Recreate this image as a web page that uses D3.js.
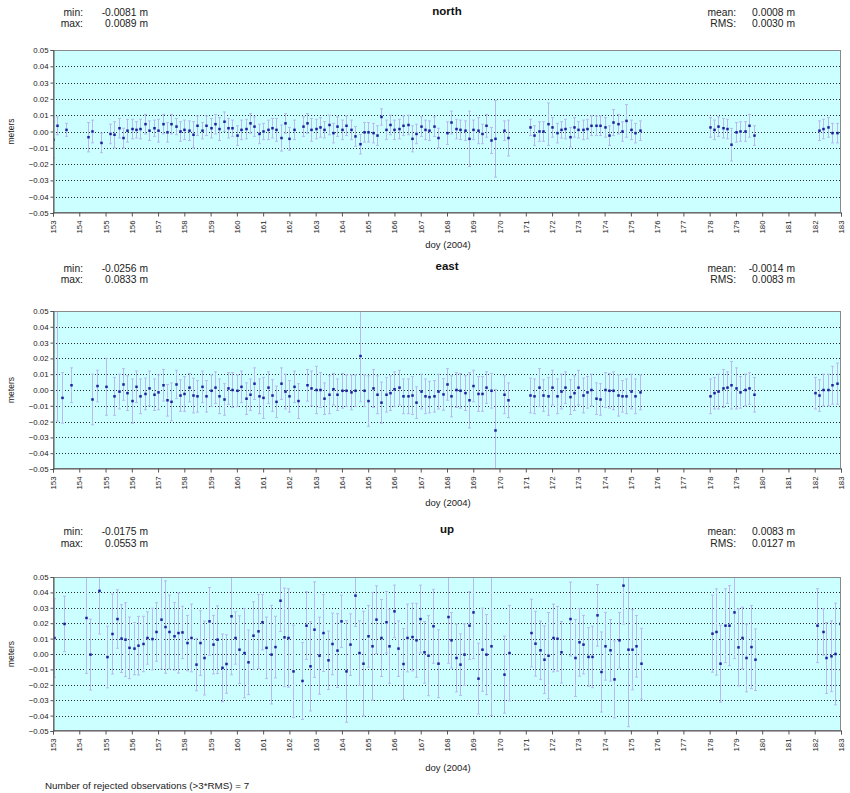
<!DOCTYPE html>
<html>
<head>
<meta charset="utf-8">
<script src="https://cdn.jsdelivr.net/npm/d3@7"></script>
<style>
  html, body { margin: 0; padding: 0; background: #ffffff; }
  svg { display: block; }
</style>
</head>
<body>
<svg id="chart" width="850" height="793"></svg>
<script>
// ---------------------------------------------------------------
// Daily GPS position residuals, doy 153-183 (2004)
// ---------------------------------------------------------------

const dayTicks = [153,154,155,156,157,158,159,160,161,162,163,164,165,166,167,168,
                  169,170,171,172,173,174,175,176,177,178,179,180,181,182,183];
const meterTicks = [-0.05,-0.04,-0.03,-0.02,-0.01,0.00,0.01,0.02,0.03,0.04,0.05];

const componentNames = ["north", "east", "up"];
const minValues  = ["-0.0081", "-0.0256", "-0.0175"];
const maxValues  = ["0.0089", "0.0833", "0.0553"];
const meanValues = ["0.0008", "-0.0014", "0.0083"];
const rmsValues  = ["0.0030", "0.0083", "0.0127"];
const rejectedCount = 7;

// ---- north ----
const northDoy = [
  153.00,153.17,153.50,154.33,154.50,154.83,
  155.17,155.33,155.50,155.67,155.83,
  156.00,156.17,156.33,156.50,156.67,156.83,
  157.00,157.17,157.33,157.50,157.67,157.83,
  158.00,158.17,158.33,158.50,158.67,158.83,
  159.00,159.17,159.33,159.50,159.67,159.83,
  160.00,160.17,160.33,160.50,160.67,160.83,
  161.00,161.17,161.33,161.50,161.67,161.83,
  162.00,162.17,162.50,162.67,162.83,
  163.00,163.17,163.33,163.50,163.67,163.83,
  164.00,164.17,164.33,164.50,164.67,164.83,
  165.00,165.17,165.33,165.50,165.67,165.83,
  166.00,166.17,166.33,166.50,166.67,166.83,
  167.00,167.17,167.33,167.50,167.67,
  168.00,168.17,168.33,168.50,168.67,168.83,
  169.00,169.17,169.33,169.50,169.67,169.83,
  170.17,170.33,
  171.17,171.33,171.50,171.67,171.83,
  172.00,172.17,172.33,172.50,172.67,172.83,
  173.00,173.17,173.33,173.50,173.67,173.83,
  174.00,174.17,174.33,174.50,174.67,174.83,
  175.00,175.17,175.33,
  178.00,178.17,178.33,178.50,178.67,178.83,
  179.00,179.17,179.33,179.50,179.67,
  182.17,182.33,182.50,182.67,182.83
];
const northValue = [
  -0.0050,0.0035,0.0010,-0.0035,0.0000,-0.0070,
  -0.0015,-0.0020,0.0020,-0.0040,0.0005,
  0.0015,0.0010,0.0015,0.0045,0.0005,0.0020,
  0.0005,0.0045,-0.0005,0.0045,0.0030,0.0000,
  0.0010,0.0005,-0.0020,0.0035,0.0005,0.0035,
  0.0020,0.0045,0.0015,0.0060,0.0020,0.0020,
  -0.0025,0.0010,0.0015,0.0050,0.0030,-0.0015,
  0.0000,0.0010,0.0020,0.0010,-0.0040,0.0050,
  -0.0045,0.0010,0.0030,0.0050,0.0010,
  0.0015,0.0025,0.0010,0.0040,-0.0010,0.0030,
  0.0010,0.0035,0.0010,-0.0030,-0.0078,-0.0005,
  -0.0005,-0.0010,-0.0025,0.0089,0.0010,0.0040,
  0.0010,0.0015,0.0035,0.0040,-0.0045,-0.0015,
  0.0030,0.0010,0.0005,0.0030,-0.0040,
  -0.0010,0.0055,0.0015,0.0010,0.0005,-0.0045,
  0.0010,0.0005,-0.0015,0.0035,-0.0055,-0.0045,
  0.0005,-0.0040,
  0.0025,-0.0025,0.0000,0.0000,0.0045,
  0.0025,-0.0010,0.0010,0.0015,-0.0035,0.0025,
  0.0010,0.0010,0.0015,0.0035,0.0035,0.0035,
  0.0025,-0.0025,0.0055,0.0045,0.0000,0.0065,
  0.0010,-0.0010,0.0005,
  0.0025,0.0010,0.0030,0.0020,0.0015,-0.0081,
  -0.0005,0.0000,0.0000,0.0035,-0.0025,
  0.0005,0.0015,0.0025,-0.0010,-0.0010
];
const northSigma = [
  0.011,0.0055,0.004,0.009,0.007,0.006,
  0.006,0.008,0.006,0.006,0.007,
  0.006,0.005,0.006,0.006,0.006,0.005,
  0.007,0.006,0.006,0.006,0.005,0.006,
  0.006,0.006,0.008,0.006,0.005,0.006,
  0.006,0.006,0.007,0.006,0.006,0.005,
  0.006,0.006,0.006,0.006,0.006,0.006,
  0.005,0.006,0.006,0.007,0.008,0.006,
  0.007,0.006,0.006,0.006,0.007,
  0.006,0.006,0.005,0.006,0.006,0.006,
  0.006,0.006,0.006,0.006,0.006,0.006,
  0.006,0.006,0.006,0.005,0.006,0.006,
  0.006,0.006,0.006,0.006,0.008,0.006,
  0.006,0.006,0.006,0.006,0.006,
  0.007,0.007,0.006,0.006,0.006,0.017,
  0.006,0.008,0.006,0.007,0.008,0.0235,
  0.006,0.011,
  0.005,0.006,0.006,0.006,0.013,
  0.006,0.006,0.005,0.006,0.006,0.006,
  0.005,0.006,0.006,0.006,0.006,0.006,
  0.006,0.006,0.008,0.006,0.006,0.010,
  0.006,0.006,0.006,
  0.006,0.006,0.006,0.006,0.006,0.010,
  0.006,0.006,0.006,0.007,0.006,
  0.006,0.006,0.006,0.006,0.006
];

// ---- east ----
const eastDoy = [
  153.17,153.33,153.67,154.50,154.67,155.00,
  155.33,155.50,155.67,155.83,
  156.00,156.17,156.33,156.50,156.67,156.83,
  157.00,157.17,157.33,157.50,157.67,157.83,
  158.00,158.17,158.33,158.50,158.67,158.83,
  159.00,159.17,159.33,159.50,159.67,159.83,
  160.00,160.17,160.33,160.50,160.67,160.83,
  161.00,161.17,161.33,161.50,161.67,161.83,
  162.00,162.17,162.33,162.67,162.83,
  163.00,163.17,163.33,163.50,163.67,163.83,
  164.00,164.17,164.33,164.50,164.67,164.83,
  165.00,165.17,165.33,165.50,165.67,165.83,
  166.00,166.17,166.33,166.50,166.67,166.83,
  167.00,167.17,167.33,167.50,167.67,167.83,
  168.00,168.17,168.33,168.50,168.67,168.83,
  169.00,169.17,169.33,169.50,169.67,169.83,
  170.17,170.33,
  171.17,171.33,171.50,171.67,171.83,
  172.00,172.17,172.33,172.50,172.67,172.83,
  173.00,173.17,173.33,173.50,173.67,173.83,
  174.00,174.17,174.33,174.50,174.67,174.83,
  175.00,175.17,175.33,
  178.00,178.17,178.33,178.50,178.67,178.83,
  179.00,179.17,179.33,179.50,179.67,
  182.00,182.17,182.33,182.50,182.67,182.83
];
const eastValue = [
  0.0833,-0.0050,0.0030,-0.0060,0.0025,0.0020,
  -0.0040,-0.0010,0.0035,-0.0020,
  -0.0070,0.0020,-0.0040,-0.0025,0.0010,-0.0030,
  -0.0015,0.0030,-0.0065,-0.0075,0.0035,-0.0035,
  -0.0025,0.0015,-0.0035,-0.0040,0.0020,-0.0040,
  -0.0005,0.0015,-0.0040,-0.0060,0.0010,0.0000,
  -0.0005,0.0020,-0.0055,-0.0030,0.0040,-0.0040,
  -0.0050,0.0015,-0.0035,-0.0075,0.0040,-0.0010,
  -0.0040,0.0020,-0.0070,0.0030,0.0010,
  0.0000,0.0000,-0.0055,-0.0030,0.0005,-0.0030,
  -0.0005,-0.0005,-0.0015,-0.0005,0.0215,-0.0005,
  -0.0070,0.0010,-0.0030,-0.0080,-0.0030,-0.0020,
  0.0005,0.0015,-0.0040,-0.0040,-0.0035,-0.0080,
  -0.0010,-0.0040,-0.0045,-0.0040,-0.0010,-0.0028,
  0.0035,-0.0040,0.0000,-0.0005,-0.0020,-0.0065,
  0.0025,-0.0025,-0.0025,0.0015,-0.0005,-0.0256,
  -0.0030,-0.0065,
  -0.0035,-0.0040,0.0015,-0.0035,-0.0040,
  0.0015,-0.0040,-0.0010,0.0015,-0.0045,-0.0020,
  0.0015,-0.0035,-0.0015,0.0000,-0.0055,-0.0060,
  0.0000,-0.0005,-0.0005,-0.0035,-0.0040,-0.0040,
  -0.0010,-0.0040,-0.0015,
  -0.0040,-0.0020,-0.0010,0.0010,0.0015,0.0030,
  0.0010,-0.0015,0.0000,0.0010,-0.0030,
  -0.0020,-0.0035,0.0000,0.0000,0.0030,0.0040
];
const eastSigma = [
  0.103,0.016,0.011,0.016,0.010,0.018,
  0.012,0.011,0.010,0.011,
  0.014,0.010,0.011,0.010,0.011,0.010,
  0.011,0.010,0.010,0.012,0.009,0.010,
  0.011,0.009,0.011,0.010,0.010,0.010,
  0.010,0.010,0.011,0.010,0.010,0.011,
  0.010,0.010,0.010,0.010,0.010,0.011,
  0.013,0.010,0.010,0.010,0.010,0.011,
  0.010,0.010,0.011,0.010,0.011,
  0.015,0.011,0.010,0.012,0.010,0.010,
  0.011,0.010,0.011,0.010,0.029,0.010,
  0.016,0.012,0.012,0.013,0.011,0.011,
  0.011,0.011,0.011,0.011,0.012,0.010,
  0.011,0.011,0.010,0.010,0.011,0.010,
  0.010,0.013,0.011,0.011,0.011,0.0175,
  0.010,0.011,0.011,0.010,0.011,0.026,
  0.012,0.011,
  0.011,0.011,0.012,0.010,0.012,
  0.011,0.011,0.011,0.010,0.011,0.011,
  0.011,0.011,0.010,0.010,0.010,0.010,
  0.011,0.011,0.012,0.013,0.010,0.011,
  0.011,0.011,0.011,
  0.011,0.010,0.011,0.012,0.010,0.015,
  0.013,0.010,0.010,0.010,0.011,
  0.010,0.010,0.010,0.010,0.012,0.013
];

// ---- up ----
const upDoy = [
  153.04,153.41,154.25,154.40,154.74,155.06,155.25,155.42,155.58,155.75,
  155.90,156.08,156.24,156.41,156.56,156.76,156.92,157.10,157.26,157.43,
  157.61,157.77,157.93,158.09,158.26,158.43,158.60,158.76,158.94,159.11,
  159.26,159.43,159.59,159.77,159.93,160.10,160.28,160.44,160.61,160.79,
  160.95,161.12,161.30,161.46,161.63,161.78,161.95,162.14,162.48,162.65,
  162.80,162.95,163.14,163.28,163.47,163.63,163.82,163.97,164.16,164.30,
  164.48,164.64,164.81,164.99,165.13,165.31,165.47,165.66,165.79,165.98,
  166.15,166.32,166.49,166.65,166.81,166.97,167.12,167.29,167.48,167.66,
  168.02,168.17,168.33,168.50,168.65,168.84,169.00,169.18,169.32,169.50,
  169.67,170.18,170.35,171.20,171.36,171.54,171.68,171.86,172.02,172.19,
  172.34,172.68,172.87,173.04,173.19,173.36,173.52,173.70,173.87,174.03,
  174.21,174.37,174.56,174.70,174.89,175.04,175.20,175.37,178.07,178.23,
  178.41,178.57,178.74,178.92,179.06,179.24,179.40,179.56,179.74,182.10,
  182.30,182.44,182.62,182.77,182.96
];
const upValue = [
  0.0104,0.0195,0.0234,-0.0004,0.0410,-0.0020,0.0130,0.0227,0.0100,0.0093,
  0.0040,0.0035,0.0054,0.0065,0.0104,0.0097,0.0143,0.0223,0.0175,0.0143,
  0.0115,0.0136,0.0140,0.0071,0.0104,-0.0069,0.0071,-0.0026,0.0212,0.0061,
  0.0093,-0.0090,-0.0065,0.0245,0.0104,0.0028,0.0006,-0.0054,0.0119,0.0147,
  0.0206,0.0040,-0.0004,0.0045,0.0346,0.0108,0.0104,-0.0113,-0.0175,0.0184,
  -0.0080,0.0158,-0.0011,0.0136,-0.0041,0.0065,0.0022,0.0212,-0.0113,0.0061,
  0.0379,0.0006,-0.0063,0.0115,0.0050,0.0223,0.0104,0.0206,0.0050,0.0277,
  0.0035,-0.0065,0.0104,0.0110,0.0089,0.0227,0.0011,-0.0011,0.0180,-0.0063,
  0.0240,0.0089,-0.0026,-0.0069,-0.0004,0.0184,0.0270,-0.0160,0.0028,-0.0004,
  0.0050,-0.0134,0.0006,0.0136,0.0067,0.0024,-0.0037,-0.0011,0.0104,0.0099,
  0.0011,0.0227,-0.0026,0.0076,0.0061,-0.0019,-0.0019,0.0251,-0.0117,0.0050,
  0.0024,-0.0165,0.0089,0.0444,0.0028,0.0028,0.0050,-0.0063,0.0132,0.0143,
  -0.0063,0.0184,0.0184,0.0270,0.0043,0.0104,-0.0026,0.0045,-0.0037,0.0184,
  0.0143,-0.0026,-0.0015,0.0000,0.0195
];
const upSigma = [
  0.0255,0.018,0.036,0.023,0.028,0.020,0.026,0.019,0.022,0.024,
  0.020,0.017,0.019,0.018,0.017,0.020,0.019,0.032,0.030,0.024,
  0.022,0.026,0.017,0.018,0.022,0.017,0.021,0.024,0.022,0.019,
  0.022,0.022,0.019,0.038,0.017,0.022,0.029,0.021,0.022,0.024,
  0.018,0.020,0.032,0.020,0.020,0.032,0.032,0.030,0.025,0.022,
  0.029,0.031,0.025,0.025,0.019,0.020,0.024,0.017,0.033,0.020,
  0.020,0.021,0.034,0.020,0.035,0.022,0.025,0.020,0.024,0.017,
  0.018,0.023,0.022,0.022,0.024,0.022,0.020,0.026,0.024,0.022,
  0.030,0.018,0.022,0.020,0.020,0.022,0.030,0.023,0.027,0.026,
  0.045,0.025,0.031,0.022,0.021,0.019,0.022,0.028,0.022,0.021,
  0.020,0.024,0.025,0.022,0.019,0.019,0.020,0.020,0.026,0.022,
  0.020,0.025,0.018,0.025,0.050,0.026,0.020,0.023,0.025,0.028,
  0.025,0.024,0.026,0.030,0.025,0.020,0.022,0.027,0.020,0.024,
  0.015,0.023,0.023,0.033,0.030
];

const seriesDoy   = [northDoy, eastDoy, upDoy];
const seriesValue = [northValue, eastValue, upValue];
const seriesSigma = [northSigma, eastSigma, upSigma];

// ---------------------------------------------------------------
// layout
// ---------------------------------------------------------------
const FONT = '"Liberation Sans",Arial,sans-serif';
const plotLeft = 53, plotRight = 841;
const panels = [
  { top: 50,  bottom: 213, head1: 15.5, head2: 26.5, titleY: 14.5, doyY: 247.5 },
  { top: 311, bottom: 469, head1: 271.5, head2: 282.5, titleY: 269.5, doyY: 505.5 },
  { top: 577, bottom: 731, head1: 534.5, head2: 546.5, titleY: 532.5, doyY: 770.5 }
];

const svg = d3.select("#chart").style("font-family", FONT);
svg.append("rect").attr("width", 850).attr("height", 793).attr("fill", "#ffffff");

const x = d3.scaleLinear().domain([153, 183]).range([plotLeft, plotRight]);
const fmtTick = d3.format(".2f");

panels.forEach((p, i) => {
  const y = d3.scaleLinear().domain([-0.05, 0.05]).range([p.bottom, p.top]);
  const g = svg.append("g");

  // plot area
  g.append("rect")
    .attr("x", plotLeft).attr("y", p.top)
    .attr("width", plotRight - plotLeft).attr("height", p.bottom - p.top)
    .attr("fill", "#ccffff");

  // dotted grid
  g.append("g").selectAll("line")
    .data(meterTicks.filter(t => Math.abs(t) < 0.045))
    .join("line")
    .attr("x1", plotLeft).attr("x2", plotRight)
    .attr("y1", d => Math.round(y(d)) + 0.5).attr("y2", d => Math.round(y(d)) + 0.5)
    .attr("stroke", "#2a2a2a").attr("stroke-width", 1)
    .attr("stroke-dasharray", "1,2");

  // clip for marks
  const clipId = "clip" + i;
  svg.append("clipPath").attr("id", clipId)
    .append("rect")
    .attr("x", plotLeft).attr("y", p.top)
    .attr("width", plotRight - plotLeft).attr("height", p.bottom - p.top);

  const rows = seriesDoy[i].map((d, j) => ({
    doy: d, v: seriesValue[i][j], s: seriesSigma[i][j]
  }));

  const marks = g.append("g").attr("clip-path", `url(#${clipId})`);

  // error bars
  const eb = marks.append("g").attr("stroke", "#b9b9f0").attr("stroke-width", 1);
  eb.selectAll("line.bar").data(rows).join("line").attr("class", "bar")
    .attr("x1", d => Math.round(x(d.doy)) + 0.5).attr("x2", d => Math.round(x(d.doy)) + 0.5)
    .attr("y1", d => y(d.v - d.s)).attr("y2", d => y(d.v + d.s));
  eb.selectAll("line.capT").data(rows).join("line").attr("class", "capT")
    .attr("x1", d => Math.round(x(d.doy)) - 1).attr("x2", d => Math.round(x(d.doy)) + 2)
    .attr("y1", d => y(d.v + d.s)).attr("y2", d => y(d.v + d.s));
  eb.selectAll("line.capB").data(rows).join("line").attr("class", "capB")
    .attr("x1", d => Math.round(x(d.doy)) - 1).attr("x2", d => Math.round(x(d.doy)) + 2)
    .attr("y1", d => y(d.v - d.s)).attr("y2", d => y(d.v - d.s));

  // points
  marks.append("g").selectAll("rect").data(rows).join("rect")
    .attr("x", d => Math.round(x(d.doy)) - 0.75).attr("y", d => y(d.v) - 1.25)
    .attr("width", 2.5).attr("height", 2.5)
    .attr("fill", "#1e1ea0");

  // plot border
  g.append("rect")
    .attr("x", plotLeft + 0.5).attr("y", p.top + 0.5)
    .attr("width", plotRight - plotLeft - 1).attr("height", p.bottom - p.top - 1)
    .attr("fill", "none").attr("stroke", "#8a8a8a").attr("stroke-width", 1);

  // y axis
  const yAxis = g.append("g")
    .attr("transform", `translate(${plotLeft + 0.5},0)`)
    .call(d3.axisLeft(y).tickValues(meterTicks).tickSize(3).tickPadding(2)
      .tickFormat(d => fmtTick(d)));
  yAxis.select(".domain").attr("stroke", "#555555");
  yAxis.selectAll(".tick line").attr("stroke", "#555555");
  yAxis.selectAll("text").attr("font-family", FONT).attr("font-size", 7.8).attr("fill", "#222");

  // x axis
  const xAxis = g.append("g")
    .attr("transform", `translate(0,${p.bottom - 0.5})`)
    .call(d3.axisBottom(x).tickValues(dayTicks).tickSize(4).tickFormat(d3.format("d")));
  xAxis.select(".domain").attr("stroke", "#555555");
  xAxis.selectAll(".tick line").attr("stroke", "#555555");
  xAxis.selectAll("text")
    .attr("font-family", FONT).attr("font-size", 7.8).attr("fill", "#222")
    .attr("transform", "rotate(-90)")
    .attr("text-anchor", "end")
    .attr("x", -8).attr("y", 0).attr("dy", "0.32em");

  // axis titles
  g.append("text")
    .attr("transform", `translate(14,${(p.top + p.bottom) / 2}) rotate(-90)`)
    .attr("text-anchor", "middle").attr("font-size", 8.5).attr("fill", "#222")
    .text("meters");
  g.append("text")
    .attr("x", 448).attr("y", p.doyY)
    .attr("text-anchor", "middle").attr("font-size", 9.5).attr("fill", "#222")
    .text("doy (2004)");

  // header: title and statistics
  g.append("text")
    .attr("x", 447).attr("y", p.titleY)
    .attr("text-anchor", "middle").attr("font-size", 11.5).attr("font-weight", "bold")
    .attr("fill", "#111")
    .text(componentNames[i]);

  const stat = (lx, vx, yy, label, value) => {
    g.append("text").attr("x", lx).attr("y", yy).attr("text-anchor", "end")
      .attr("font-size", 10.3).attr("fill", "#222").text(label);
    g.append("text").attr("x", vx).attr("y", yy).attr("text-anchor", "end")
      .attr("font-size", 10.3).attr("fill", "#222").text(value + " m");
  };
  stat(83, 148, p.head1, "min:", minValues[i]);
  stat(83, 148, p.head2, "max:", maxValues[i]);
  stat(736, 795, p.head1, "mean:", meanValues[i]);
  stat(736, 795, p.head2, "RMS:", rmsValues[i]);
});

svg.append("text")
  .attr("x", 45).attr("y", 788.5)
  .attr("font-size", 9.8).attr("fill", "#222")
  .text(`Number of rejected observations (>3*RMS) = ${rejectedCount}`);
</script>
</body>
</html>
